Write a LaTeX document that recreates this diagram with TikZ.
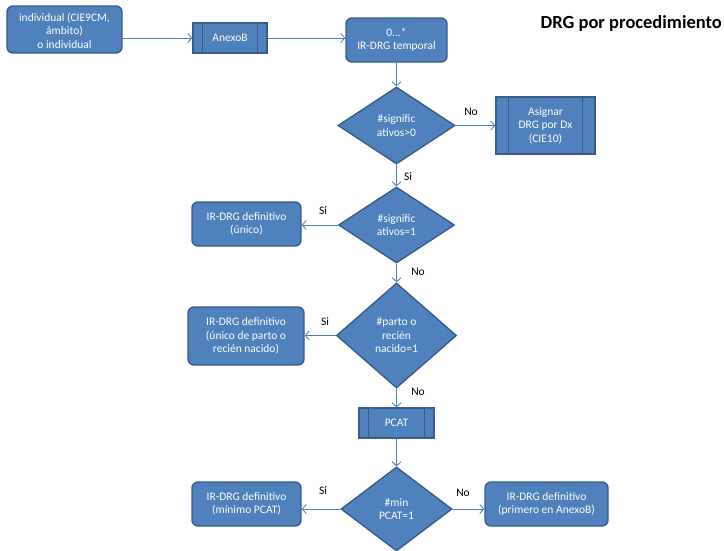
\documentclass[tikz,border=0pt]{standalone}
\usepackage{fontspec}
\setmainfont{Carlito}
\usetikzlibrary{shapes.geometric,arrows.meta}
\definecolor{boxblue}{HTML}{4F81BD}
\definecolor{boxborder}{HTML}{385D8A}
\definecolor{arrowblue}{HTML}{4A7EBB}
\tikzset{
  base/.style={fill=boxblue, draw=boxborder, line width=1.4pt, text=white, align=center, inner sep=0pt, font=\fontsize{11.5}{13.5}\selectfont},
  rbox/.style={base, rectangle, rounded corners=6pt},
  ppbox/.style={base, rectangle},
  decision/.style={base, diamond, aspect=1},
  innerline/.style={draw=boxborder, line width=1.4pt},
  arr/.style={draw=arrowblue, line width=0.8pt, -{Straight Barb[length=4pt,width=9pt]}},
  lbl/.style={text=black, font=\fontsize{11.5}{13.5}\selectfont, inner sep=0pt},
  wtext/.style={text=white, align=center, inner sep=0pt, font=\fontsize{11.5}{13.5}\selectfont}
}
\begin{document}
\begin{tikzpicture}[x=1pt,y=-1pt]
\useasboundingbox (0,0) rectangle (724,550);
% nodes
\node[rbox, minimum width=115pt, minimum height=47pt] (box1) at (64.5,29.5) {};
\node[wtext, anchor=base] (box1top) at (64.5,1.5) {Regla agregada};
\node[wtext] (box1txt) at (64.5,30.5) {individual (CIE9CM,\\ámbito)\\o individual};
\node[ppbox, minimum width=74pt, minimum height=30pt] (anexo) at (230,38) {AnexoB};
\node[rbox, minimum width=101pt, minimum height=44pt] (temp) at (396.5,40) {0...*\\IR-DRG temporal};
\node[decision, minimum width=117pt, minimum height=77pt] (d1) at (396.5,125.5) {\#signific\\ativos>0};
\node[ppbox, minimum width=99pt, minimum height=57pt] (asig) at (545.5,125.5) {Asignar\\DRG por Dx\\(CIE10)};
\node[decision, minimum width=116pt, minimum height=76pt] (d2) at (396.5,225) {\#signific\\ativos=1};
\node[rbox, minimum width=109pt, minimum height=44pt] (unico) at (246.5,224) {IR-DRG definitivo\\(único)};
\node[decision, minimum width=120pt, minimum height=105pt] (d3) at (396.5,335.5) {\#parto o\\recién\\nacido=1};
\node[rbox, minimum width=116pt, minimum height=58pt] (parto) at (246,336) {IR-DRG definitivo\\(único de parto o\\recién nacido)};
\node[ppbox, minimum width=75pt, minimum height=30pt] (pcat) at (396.5,423) {PCAT};
\node[decision, minimum width=111pt, minimum height=84pt] (d4) at (396.5,509) {\#min\\PCAT=1};
\node[rbox, minimum width=109pt, minimum height=44pt] (minimo) at (246.5,504) {IR-DRG definitivo\\(mínimo PCAT)};
\node[rbox, minimum width=123pt, minimum height=44pt] (primero) at (546.5,504) {IR-DRG definitivo\\(primero en AnexoB)};
\node[anchor=east, inner sep=0pt, font=\fontsize{18.5}{20}\selectfont\bfseries] (title) at (722,23) {DRG por procedimiento};
% inner lines of predefined-process boxes
\draw[innerline] ([xshift=10pt]anexo.north west) -- ([xshift=10pt]anexo.south west);
\draw[innerline] ([xshift=-10pt]anexo.north east) -- ([xshift=-10pt]anexo.south east);
\draw[innerline] ([xshift=13pt]asig.north west) -- ([xshift=13pt]asig.south west);
\draw[innerline] ([xshift=-13pt]asig.north east) -- ([xshift=-13pt]asig.south east);
\draw[innerline] ([xshift=10pt]pcat.north west) -- ([xshift=10pt]pcat.south west);
\draw[innerline] ([xshift=-10pt]pcat.north east) -- ([xshift=-10pt]pcat.south east);
% connectors
\draw[arr] (box1.east |- anexo.west) -- (anexo.west);
\draw[arr] (anexo.east) -- (anexo.east -| temp.west);
\draw[arr] (temp.south) -- (d1.north);
\draw[arr] (d1.east) -- (asig.west);
\draw[arr] (d1.south) -- (d2.north);
\draw[arr] (d2.west) -- (d2.west -| unico.east);
\draw[arr] (d2.south) -- (d3.north);
\draw[arr] (d3.west) -- (d3.west -| parto.east);
\draw[arr] (d3.south) -- (pcat.north);
\draw[arr] (pcat.south) -- (d4.north);
\draw[arr] (d4.west) -- (d4.west -| minimo.east);
\draw[arr] (d4.east) -- (d4.east -| primero.west);
% labels
\node[lbl] (l1) at (471,112) {No};
\node[lbl] (l2) at (408,177) {Si};
\node[lbl] (l3) at (323,211) {Si};
\node[lbl] (l4) at (418,272) {No};
\node[lbl] (l5) at (325,322) {Si};
\node[lbl] (l6) at (418,392) {No};
\node[lbl] (l7) at (323,491) {Si};
\node[lbl] (l8) at (463,493) {No};
\end{tikzpicture}
\end{document}
